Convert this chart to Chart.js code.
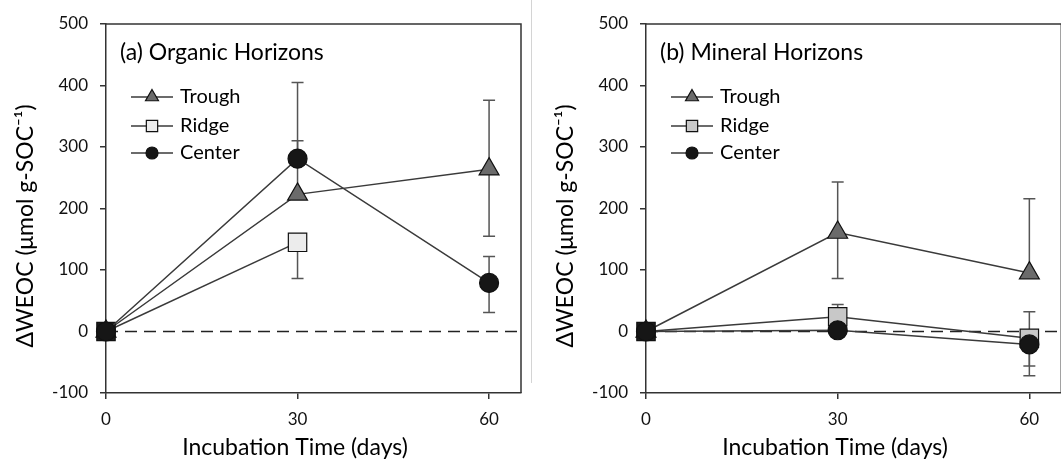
<!DOCTYPE html>
<html>
<head>
<meta charset="utf-8">
<script src="https://cdn.jsdelivr.net/npm/chart.js@4"></script>
<style>
  html, body { margin: 0; padding: 0; background: #fff; overflow: hidden; }
  #wrap { position: relative; width: 1061px; height: 461px; }
  #left { position: absolute; left: 0; top: 0; }
  #right { position: absolute; left: 530px; top: 0; }
  #sep { position: absolute; left: 531px; top: 0; width: 1px; height: 383px; background: #d4d4d4; }
</style>
</head>
<body>
<div id="wrap">
  <canvas id="left" width="530" height="461"></canvas>
  <div id="sep"></div>
  <canvas id="right" width="540" height="461"></canvas>
</div>
<script>
// --- data ---
const days = [0, 30, 60];
const xTicks = [0, 30, 60];
const yTicks = [-100, 0, 100, 200, 300, 400, 500];
const seriesNames = ["Trough", "Ridge", "Center"];

// (a) organic horizons
const orgTrough = [0, 223, 264];
const orgRidge = [0, 145, null];
const orgCenter = [0, 281, 79];
// error bar ends (null = no bar visible)
const orgTroughHi = [null, 310, 376];
const orgTroughLo = [null, null, 155];
const orgRidgeHi = [null, null, null];
const orgRidgeLo = [null, 86, null];
const orgCenterHi = [null, 405, 122];
const orgCenterLo = [null, null, 31];

// (b) mineral horizons
const minTrough = [0, 161, 95];
const minRidge = [0, 24, -11];
const minCenter = [0, 2, -21];
const minTroughHi = [null, 243, 216];
const minTroughLo = [null, 86, null];
const minRidgeHi = [null, 44, 32];
const minRidgeLo = [null, null, -56];
const minCenterHi = [null, null, null];
const minCenterLo = [null, null, -72];

const xTitle = "Incubation Time (days)";
const yTitle = "\u0394WEOC (\u03bcmol g-SOC\u207b\u00b9)";

const FONT = "Lato, 'Open Sans', sans-serif";
const LINE = "#3a3a3a";

function pts(vals) {
  return days.map((d, i) => ({ x: d, y: vals[i] }));
}

function makeDataset(label, vals, hi, lo, style) {
  return Object.assign({
    label: label,
    data: pts(vals),
    errHi: hi,
    errLo: lo,
    borderColor: LINE,
    borderWidth: 1.5,
    pointBorderColor: "#111",
    pointBorderWidth: 1.2,
    tension: 0,
    spanGaps: false,
    clip: false
  }, style);
}

// zero line and error bars under the markers, frame/titles/legend on top
const underlay = {
  id: "underlay",
  beforeDatasetsDraw(chart) {
    const { ctx, chartArea: a, scales: { x, y } } = chart;
    ctx.save();
    ctx.strokeStyle = "#222";
    ctx.lineWidth = 1.5;
    ctx.setLineDash([12, 7]);
    const y0 = y.getPixelForValue(0);
    ctx.beginPath();
    ctx.moveTo(a.left, y0);
    ctx.lineTo(a.right, y0);
    ctx.stroke();
    ctx.setLineDash([]);
    ctx.strokeStyle = "#555";
    ctx.lineWidth = 1.5;
    chart.data.datasets.forEach(ds => {
      ds.data.forEach((p, i) => {
        if (p.y === null) return;
        const px = x.getPixelForValue(p.x);
        const py = y.getPixelForValue(p.y);
        [ds.errHi[i], ds.errLo[i]].forEach(end => {
          if (end === null || end === undefined) return;
          const pe = y.getPixelForValue(end);
          ctx.beginPath();
          ctx.moveTo(px, py);
          ctx.lineTo(px, pe);
          ctx.moveTo(px - 6, pe);
          ctx.lineTo(px + 6, pe);
          ctx.stroke();
        });
      });
    });
    ctx.restore();
  },
  afterDraw(chart) {
    const { ctx, chartArea: a } = chart;
    ctx.save();
    ctx.strokeStyle = "#333";
    ctx.lineWidth = 1.5;
    ctx.beginPath();
    ctx.moveTo(a.left, a.top);
    ctx.lineTo(a.right, a.top);
    ctx.lineTo(a.right, a.bottom);
    ctx.stroke();

    ctx.fillStyle = "#000";
    ctx.textBaseline = "middle";

    // axis titles (offset from centre as in the figure)
    ctx.font = "23px " + FONT;
    ctx.textAlign = "center";
    ctx.fillText(xTitle, a.left + 189, 448);
    ctx.save();
    ctx.translate(a.left - 80.5, 226);
    ctx.rotate(-Math.PI / 2);
    ctx.fillText(yTitle, 0, 0);
    ctx.restore();

    // panel title
    ctx.textAlign = "left";
    ctx.font = "23px " + FONT;
    ctx.fillText(chart.options.panelTitle, a.left + 14, 53);

    // legend
    const rows = [97, 126, 153];
    const sizes = [7.5, 8, 6];
    const fills = ["#6b6b6b", chart.options.ridgeFill, "#161616"];
    chart.data.datasets.forEach((ds, i) => {
      const ly = rows[i];
      const lx = a.left + 25;
      ctx.strokeStyle = LINE;
      ctx.lineWidth = 1.5;
      ctx.beginPath();
      ctx.moveTo(lx, ly);
      ctx.lineTo(lx + 42, ly);
      ctx.stroke();
      ctx.fillStyle = fills[i];
      ctx.strokeStyle = "#111";
      ctx.lineWidth = 1.2;
      Chart.helpers.drawPoint(ctx, { pointStyle: ds.pointStyle, radius: sizes[i], borderWidth: 1.2 }, lx + 21, ly);
      ctx.fillStyle = "#000";
      ctx.font = "20px " + FONT;
      ctx.fillText(ds.label, a.left + 74, ly);
    });
    ctx.restore();
  }
};

function makeChart(id, title, series, ridgeFill, yWidth, padRight) {
  const datasets = [
    makeDataset(seriesNames[0], series[0], series[3], series[4], {
      order: 2,
      pointStyle: "triangle", pointRadius: 11.5, pointHoverRadius: 11.5, pointBackgroundColor: "#6b6b6b"
    }),
    makeDataset(seriesNames[1], series[1], series[5], series[6], {
      order: 1,
      pointStyle: "rect", pointRadius: 13, pointHoverRadius: 13,
      // overlapping markers at day 0 read as a dark square in the figure
      pointBackgroundColor: days.map(d => d === 0 ? "#1c1c1c" : ridgeFill)
    }),
    makeDataset(seriesNames[2], series[2], series[7], series[8], {
      order: 0,
      pointStyle: "circle", pointRadius: 9.5, pointHoverRadius: 9.5, pointBackgroundColor: "#161616"
    })
  ];
  const tickFont = { family: FONT, size: 17 };
  return new Chart(document.getElementById(id), {
    type: "line",
    data: { datasets: datasets },
    plugins: [underlay],
    options: {
      panelTitle: title,
      ridgeFill: ridgeFill,
      responsive: false,
      animation: false,
      layout: { autoPadding: false, padding: { top: 24, right: padRight, bottom: 0, left: 0 } },
      plugins: { legend: { display: false }, tooltip: { enabled: false } },
      scales: {
        x: {
          type: "linear",
          min: 0,
          max: 65,
          afterFit: s => { s.height = 68; s.paddingLeft = 0; s.paddingRight = 0; },
          afterBuildTicks: s => { s.ticks = xTicks.map(v => ({ value: v })); },
          grid: { drawOnChartArea: false, drawTicks: true, tickLength: 6, color: "#333", lineWidth: 1.5 },
          border: { display: true, color: "#333", width: 1.5 },
          ticks: { font: tickFont, color: "#111", padding: 10, maxRotation: 0 }
        },
        y: {
          min: -100,
          max: 500,
          afterFit: s => { s.width = yWidth; s.paddingTop = 0; s.paddingBottom = 0; },
          afterBuildTicks: s => { s.ticks = yTicks.map(v => ({ value: v })); },
          grid: { drawOnChartArea: false, drawTicks: true, tickLength: 6, color: "#333", lineWidth: 1.5 },
          border: { display: true, color: "#333", width: 1.5 },
          ticks: { font: tickFont, color: "#111", padding: 12 }
        }
      }
    }
  });
}

makeChart("left", "(a) Organic Horizons",
  [orgTrough, orgRidge, orgCenter, orgTroughHi, orgTroughLo, orgRidgeHi, orgRidgeLo, orgCenterHi, orgCenterLo],
  "#ececec", 106, 9);
makeChart("right", "(b) Mineral Horizons",
  [minTrough, minRidge, minCenter, minTroughHi, minTroughLo, minRidgeHi, minRidgeLo, minCenterHi, minCenterLo],
  "#c8c8c8", 116, 8.7);
</script>
</body>
</html>
